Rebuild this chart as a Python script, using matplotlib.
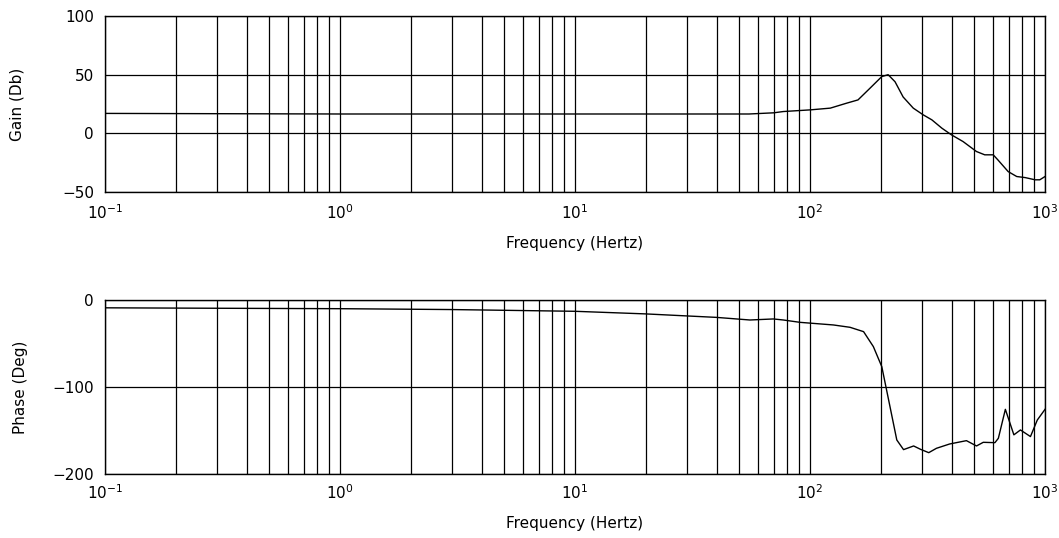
import numpy as np
import matplotlib
matplotlib.use('Agg')
import matplotlib.pyplot as plt
from matplotlib.ticker import LogLocator

# gain curve
gain_f = [0.1, 1, 10, 30, 55, 70, 77, 100, 122, 143, 160, 180, 202, 215, 230, 249,
          275, 303, 330, 364, 400, 448, 511, 554, 602, 630, 697, 758, 823, 908, 950, 1000]
gain_db = [17, 16.5, 16.5, 16.5, 16.5, 17.5, 18.6, 20, 21.5, 25.7, 28.5, 38.5, 48.4, 50,
           44, 31, 21.5, 15.8, 11.5, 4.4, -1.3, -7, -15.5, -18.3, -18.3, -22.6, -32.6,
           -36.8, -37.7, -39.6, -39.6, -36.8]

# phase curve
phase_f = [0.1, 0.3, 1, 3, 10, 20, 40, 55.5, 69.8, 77, 90.7, 125.7, 148, 169, 186, 202,
           216, 234, 250, 276, 295, 320, 345, 393, 463, 511, 546, 612, 633, 678, 737,
           786, 867, 927, 1000]
phase_deg = [-9, -9.5, -10, -11, -13, -16, -20, -23, -21.8, -23, -25.7, -28.7, -31.4,
             -36.4, -53.6, -76.6, -114.9, -160.9, -172, -167.8, -171.6, -175.5, -170.5,
             -165.5, -161.7, -167.8, -163.6, -164, -159, -125.7, -155, -149.4, -157,
             -138, -125.7]

fig = plt.figure(figsize=(10.59, 5.38), dpi=100)
ax1 = fig.add_axes([0.0992, 0.6431, 0.8876, 0.3271])
ax2 = fig.add_axes([0.0992, 0.119, 0.8876, 0.3234])

def style(ax, yticks, ylab, labx, xpad):
    ax.set_xscale('log')
    ax.set_xlim(0.1, 1000)
    ax.xaxis.set_major_locator(LogLocator(base=10, numticks=10))
    ax.xaxis.set_minor_locator(LogLocator(base=10, subs=np.arange(2, 10), numticks=20))
    ax.set_ylim(yticks[0], yticks[-1])
    ax.set_yticks(yticks)
    ax.set_yticklabels([str(t).replace('-', '\u2212') for t in yticks])
    ax.grid(True, which='both', axis='x', color='black', lw=0.9)
    ax.grid(True, which='major', axis='y', color='black', lw=0.9)
    ax.tick_params(which='both', length=0, labelsize=11, pad=8)
    ax.tick_params(axis='x', pad=xpad)
    for s in ax.spines.values():
        s.set_linewidth(1.0)
    ax.set_xlabel('Frequency (Hertz)', fontsize=11, labelpad=10)
    ax.set_ylabel(ylab, fontsize=11)
    ax.yaxis.set_label_coords(labx, 0.5)

ax1.plot(gain_f, gain_db, color='black', lw=1.0)
style(ax1, [-50, 0, 50, 100], 'Gain (Db)', -0.086, 8)

ax2.plot(phase_f, phase_deg, color='black', lw=1.0)
style(ax2, [-200, -100, 0], 'Phase (Deg)', -0.082, 7)

fig.savefig('out.png', dpi=100)
